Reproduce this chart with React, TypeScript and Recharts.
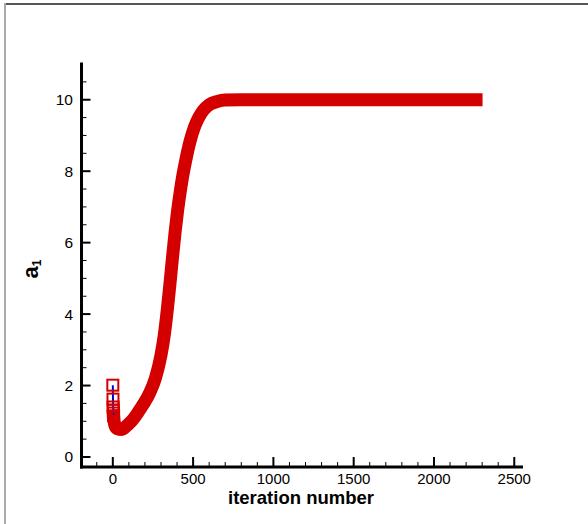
import React from 'react';
import { ComposedChart, Line, XAxis, YAxis, Label } from 'recharts';

// first iterations, drawn as separate open squares joined by a thin line
const startIter = [0, 1, 2, 3, 4, 5];
const startA1 = [2.01, 1.62, 1.4, 1.31, 1.23, 1.15];

// the dense part of the history (markers overlap into a thick band)
const bandIter = [5, 8, 12, 18, 28, 45, 65, 83, 120, 150, 176, 200, 230, 265, 300, 320, 340, 357, 372, 388, 403, 419, 436, 454, 480, 507, 535, 563, 600, 650, 700, 800, 1000, 1500, 2000, 2262];
const bandA1 = [1.15, 1.0, 0.9, 0.83, 0.79, 0.77, 0.79, 0.86, 1.02, 1.2, 1.38, 1.55, 1.8, 2.2, 2.85, 3.4, 4.15, 4.9, 5.6, 6.3, 6.88, 7.4, 7.88, 8.3, 8.82, 9.22, 9.5, 9.7, 9.86, 9.95, 9.99, 10.0, 10.0, 10.0, 10.0, 10.0];

const xTicks = [-100, 0, 100, 200, 300, 400, 500, 600, 700, 800, 900, 1000, 1100, 1200, 1300, 1400, 1500, 1600, 1700, 1800, 1900, 2000, 2100, 2200, 2300, 2400, 2500];
const xMajor = [0, 500, 1000, 1500, 2000, 2500];
const yTicks = [0, 0.5, 1, 1.5, 2, 2.5, 3, 3.5, 4, 4.5, 5, 5.5, 6, 6.5, 7, 7.5, 8, 8.5, 9, 9.5, 10, 10.5];
const yMajor = [0, 2, 4, 6, 8, 10];

const startData = startIter.map((it, i) => ({ iter: it, a1: startA1[i] }));
const bandData = bandIter.map((it, i) => ({ iter: it, a1: bandA1[i] }));

const RED = '#d40000';
const BLUE = '#0000d0';
const FONT = '"Liberation Sans", Arial, Helvetica, sans-serif';

const XTick = (props: any) => {
  const { x, y, payload } = props;
  const major = xMajor.includes(payload.value);
  return (
    <g>
      <line x1={x} x2={x} y1={y} y2={y - (major ? 10 : 5)} stroke="#000" strokeWidth={major ? 2 : 1} />
      {major && (
        <text x={x} y={y + 16.5} textAnchor="middle" fontSize={15} fontFamily={FONT} fill="#000">
          {payload.value}
        </text>
      )}
    </g>
  );
};

const YTick = (props: any) => {
  const { x, y, payload } = props;
  const major = yMajor.includes(payload.value);
  return (
    <g>
      <line x1={x} x2={x + (major ? 9 : 5)} y1={y} y2={y} stroke="#000" strokeWidth={major ? 2 : 1} />
      {major && (
        <text x={x - 8.5} y={y + 5.5} textAnchor="end" fontSize={15.5} fontFamily={FONT} fill="#000">
          {payload.value}
        </text>
      )}
    </g>
  );
};

const SquareDot = (props: any) => {
  const { cx, cy, index } = props;
  if (cx == null || cy == null) return null;
  return <rect key={`sq-${index}`} x={cx - 5.5} y={cy - 5.5} width={11} height={11} fill="none" stroke={RED} strokeWidth={2} />;
};

const YTitle = (props: any) => (
  <text transform="translate(38, 269) rotate(-90)" textAnchor="middle" fontFamily={FONT} fontWeight="bold" fill="#000">
    <tspan fontSize={22}>a</tspan>
    <tspan fontSize={12} dy={3}>1</tspan>
  </text>
);

const XTitle = (props: any) => (
  <text x={301} y={503.5} textAnchor="middle" fontFamily={FONT} fontWeight="bold" fontSize={18.5} fill="#000">
    iteration number
  </text>
);

export default function App() {
  return (
    <div style={{ position: 'absolute', left: 0, top: 0, width: 588, height: 524, background: '#fff' }}>
      <div style={{ position: 'absolute', left: 4, top: 3, width: 584, height: 1.5, background: '#555' }} />
      <div style={{ position: 'absolute', left: 4, top: 3, width: 2, height: 521, background: '#aaa' }} />
      <ComposedChart width={588} height={524} margin={{ top: 64, right: 66.5, bottom: 0, left: 0 }}>
        <XAxis
          type="number"
          dataKey="iter"
          domain={[-195, 2545]}
          allowDataOverflow
          ticks={xTicks}
          interval={0}
          tickSize={0}
          tickMargin={0}
          tickLine={false}
          tick={<XTick />}
          axisLine={{ stroke: '#000', strokeWidth: 3, strokeLinecap: 'square' }}
          height={57}
        >
          <Label content={<XTitle />} />
        </XAxis>
        <YAxis
          type="number"
          domain={[-0.28, 11]}
          allowDataOverflow
          ticks={yTicks}
          interval={0}
          tickSize={0}
          tickMargin={0}
          tickLine={false}
          tick={<YTick />}
          axisLine={{ stroke: '#000', strokeWidth: 3, strokeLinecap: 'square' }}
          width={81.5}
        >
          <Label content={<YTitle />} />
        </YAxis>
        <Line
          data={bandData}
          dataKey="a1"
          type="monotone"
          stroke={RED}
          strokeWidth={13}
          strokeLinecap="square"
          strokeLinejoin="round"
          dot={false}
          activeDot={false}
          isAnimationActive={false}
        />
        <Line
          data={startData}
          dataKey="a1"
          type="linear"
          stroke={BLUE}
          strokeWidth={2}
          dot={<SquareDot />}
          activeDot={false}
          isAnimationActive={false}
        />
      </ComposedChart>
    </div>
  );
}
